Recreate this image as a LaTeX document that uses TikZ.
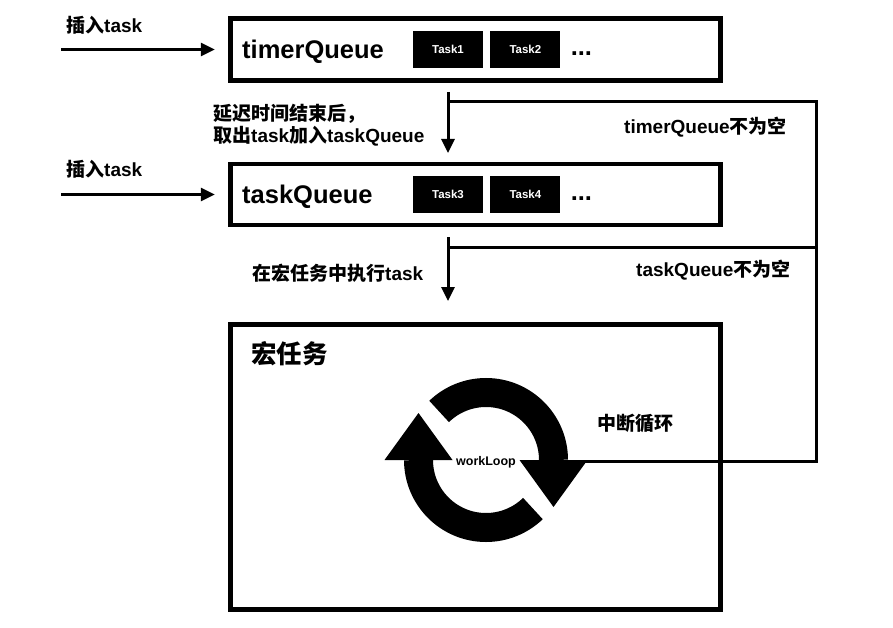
\documentclass[tikz,border=0pt]{standalone}
\usepackage{fontspec}
\setmainfont{Liberation Sans}
\newfontfamily\cjk{Noto Sans CJK SC}
\newcommand\zh[1]{{\cjk #1}}
\usetikzlibrary{arrows.meta, positioning}

\begin{document}
\begin{tikzpicture}[x=1pt, y=-1pt,
box/.style  = {draw, line width=4.5pt, minimum width=490pt, inner sep=0pt},
task/.style = {fill=black, text=white, minimum width=70pt, minimum height=37pt,
               inner sep=0pt, font=\fontsize{11.5}{13}\selectfont\bfseries},
big/.style  = {inner sep=0pt, font=\fontsize{25.5}{30}\selectfont\bfseries},
lbl/.style  = {inner sep=0pt, anchor=west, align=left,
               font=\fontsize{19}{22}\selectfont\bfseries},
conn/.style = {line width=3pt},
arr/.style  = {conn, -{Triangle[length=14pt, width=13pt]}},
ring/.style = {line width=29pt},
     font = \bfseries
                        ]
\useasboundingbox (0,0) rectangle (893,628);
% queues
\node (timer) [box, minimum height=62pt] at (475.5,49.5)  {};
\node (taskq) [box, minimum height=61pt] at (475.5,194.5) {};
\node (macro) [box, minimum height=285pt] at (475.5,467)  {};
\node (timerT) [big, anchor=base west] at (242,59)  {timerQueue};
\node (taskqT) [big, anchor=base west] at (242,204) {taskQueue};
\node (macroT) [big, anchor=west] at (251,353.5) {\zh{宏任务}};
%
\node (t1) [task] at (448,49.5)   {Task1};
\node (t2) [task,right=7pt of t1] {Task2};
\node (m1) [big,right=10pt of t2,yshift=-4.5pt] {...};
\node (t3) [task] at (448,194.5)  {Task3};
\node (t4) [task,right=7pt of t3] {Task4};
\node (m2) [big,right=10pt of t4,yshift=-4.5pt] {...};
% insert
\coordinate (in1) at (61,49.5);
\coordinate (in2) at (61,194.5);
\node (ins1) [lbl] at (66,25)  {\zh{插入}task};
\node (ins2) [lbl] at (66,169) {\zh{插入}task};
\draw[arr] (in1) -- ([xshift=-13.5pt] timer.west);
\draw[arr] (in2) -- ([xshift=-13.5pt] taskq.west);
% flow
\coordinate (d1s) at (448,92);
\coordinate (d1e) at (448,153);
\coordinate (d2s) at (448,237);
\coordinate (d2e) at (448,301);
\coordinate (r1) at (816,102);
\coordinate (r2) at (816,247);
\coordinate (r3) at (816,461);
\coordinate (loop) at (486,460);
\coordinate (loopR) at (555,461);
\draw[arr] (d1s) -- (d1e);
\draw[arr] (d2s) -- (d2e);
\draw[conn] (d1s |- r1) -- (r1) -- (r3) -- (loopR);
\draw[conn] (d2s |- r2) -- (r2);
\node (delay) [lbl] at (213,125) {\zh{延迟时间结束后，}\\\zh{取出}task\zh{加入}taskQueue};
\node (run) [lbl] at (252,273) {\zh{在宏任务中执行}task};
\node (tne) [lbl] at (624,127) {timerQueue\zh{不为空}};
\node (qne) [lbl] at (636,270) {taskQueue\zh{不为空}};
\node (brk) [lbl] at (597,423) {\zh{中断循环}};
% workLoop
\begin{scope}[shift={(loop)}, x=1pt, y=1pt]
\draw[ring] (180:67.5) arc[start angle=180, end angle=314, radius=67.5];
\draw[ring] (0:67.5) arc[start angle=0, end angle=134, radius=67.5];
\fill (-101.5,0) -- (-33.5,0) -- (-67.5,47) -- cycle;
\fill (33.5,0) -- (101.5,0) -- (67.5,-47) -- cycle;
\end{scope}
\node (wl) [font=\fontsize{12.5}{14}\selectfont\bfseries] at (486,462) {workLoop};
    \end{tikzpicture}
\end{document}
